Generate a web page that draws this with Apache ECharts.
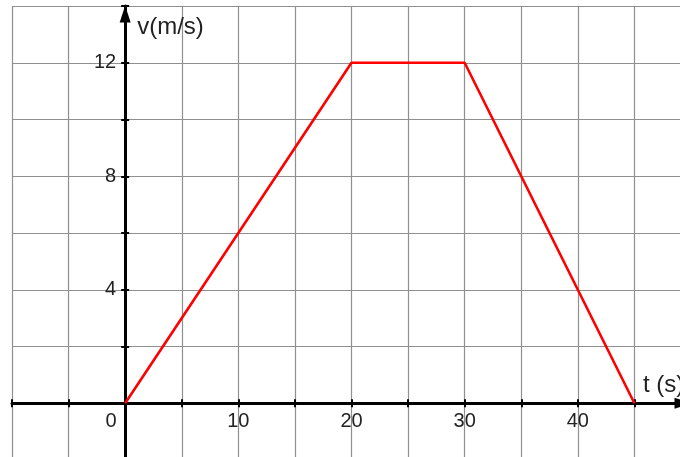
<!DOCTYPE html>
<html>
<head>
<meta charset="utf-8">
<script src="https://cdn.jsdelivr.net/npm/echarts@6/dist/echarts.min.js"></script>
<style>
html,body{margin:0;padding:0;background:#fff;}
#c{width:680px;height:457px;}
</style>
</head>
<body>
<div id="c"></div>
<script>
// Data
const tValues = [0, 20, 30, 45];
const vValues = [0, 12, 12, 0];
const xLabelValues = [0, 10, 20, 30, 40];
const yLabelValues = [4, 8, 12];
const xName = 't (s)';
const yName = 'v(m/s)';

const seriesData = tValues.map((t, i) => [t, vValues[i]]);
const FONT = 'Liberation Sans, Arial, sans-serif';

// Layout
const GRID = {left: 12, right: -11, top: 6, bottom: -3};
const W = 680, H = 457;
const X_MIN = -10, X_MAX = 50, Y_MIN = -2, Y_MAX = 14;
const gw = W - GRID.left - GRID.right, gh = H - GRID.top - GRID.bottom;
// offsets so the axes sit on the zero lines
const yAxisOffset = -(0 - X_MIN) / (X_MAX - X_MIN) * gw;
const xAxisOffset = -(0 - Y_MIN) / (Y_MAX - Y_MIN) * gh;

const chart = echarts.init(document.getElementById('c'), null, {renderer: 'canvas'});
const tickStyle = {color: '#000', width: 2};
const gridLine = {color: '#8f8f8f', width: 1.2};

chart.setOption({
  animation: false,
  backgroundColor: '#fff',
  grid: Object.assign({containLabel: false, outerBoundsMode: 'none'}, GRID),
  xAxis: [
    {
      type: 'value', min: X_MIN, max: X_MAX, interval: 5,
      position: 'bottom', offset: xAxisOffset,
      axisLine: {show: true, onZero: false,
        lineStyle: {color: '#000', width: 3},
        symbol: ['none', 'triangle'], symbolSize: [11, 17], symbolOffset: [0, -8]},
      axisTick: {show: true, length: 4, lineStyle: tickStyle},
      splitLine: {show: true, lineStyle: gridLine},
      axisLabel: {
        show: true, margin: 8, color: '#222', fontFamily: FONT, fontSize: 20,
        formatter: function (v) {
          if (xLabelValues.indexOf(v) < 0) return '';
          if (v === 0) return '{z|0}';
          return String(v);
        },
        rich: {z: {fontFamily: FONT, fontSize: 20, color: '#222', padding: [0, 28, 0, 0]}}
      },
      name: xName, nameLocation: 'end', nameGap: -48,
      nameTextStyle: {fontFamily: FONT, fontSize: 24, color: '#222', align: 'left', verticalAlign: 'bottom', padding: [0, 0, 6, 0]}
    },
    {
      type: 'value', min: X_MIN, max: X_MAX, interval: 5,
      position: 'bottom', offset: xAxisOffset,
      axisLine: {show: false, onZero: false},
      axisTick: {show: true, inside: true, length: 4, lineStyle: tickStyle},
      splitLine: {show: false},
      axisLabel: {show: false}
    }
  ],
  yAxis: [
    {
      type: 'value', min: Y_MIN, max: Y_MAX, interval: 2,
      position: 'left', offset: yAxisOffset,
      axisLine: {show: true, onZero: false,
        lineStyle: {color: '#000', width: 3},
        symbol: ['none', 'triangle'], symbolSize: [11, 17], symbolOffset: [0, -8]},
      axisTick: {show: true, length: 4, lineStyle: tickStyle},
      splitLine: {show: true, lineStyle: gridLine},
      axisLabel: {
        show: true, margin: 9, color: '#222', fontFamily: FONT, fontSize: 20,
        formatter: function (v) { return yLabelValues.indexOf(v) >= 0 ? String(v) : ''; }
      },
      name: yName, nameLocation: 'end', nameGap: -9,
      nameTextStyle: {fontFamily: FONT, fontSize: 24, color: '#222', align: 'left', verticalAlign: 'top', padding: [0, 0, 0, 12]}
    },
    {
      type: 'value', min: Y_MIN, max: Y_MAX, interval: 2,
      position: 'left', offset: yAxisOffset,
      axisLine: {show: false, onZero: false},
      axisTick: {show: true, inside: true, length: 4, lineStyle: tickStyle},
      splitLine: {show: false},
      axisLabel: {show: false}
    }
  ],
  series: [{
    type: 'line',
    data: seriesData,
    xAxisIndex: 0, yAxisIndex: 0,
    showSymbol: false, symbol: 'none',
    lineStyle: {color: '#ff0000', width: 2.6},
    z: 5
  }]
});
</script>
</body>
</html>
